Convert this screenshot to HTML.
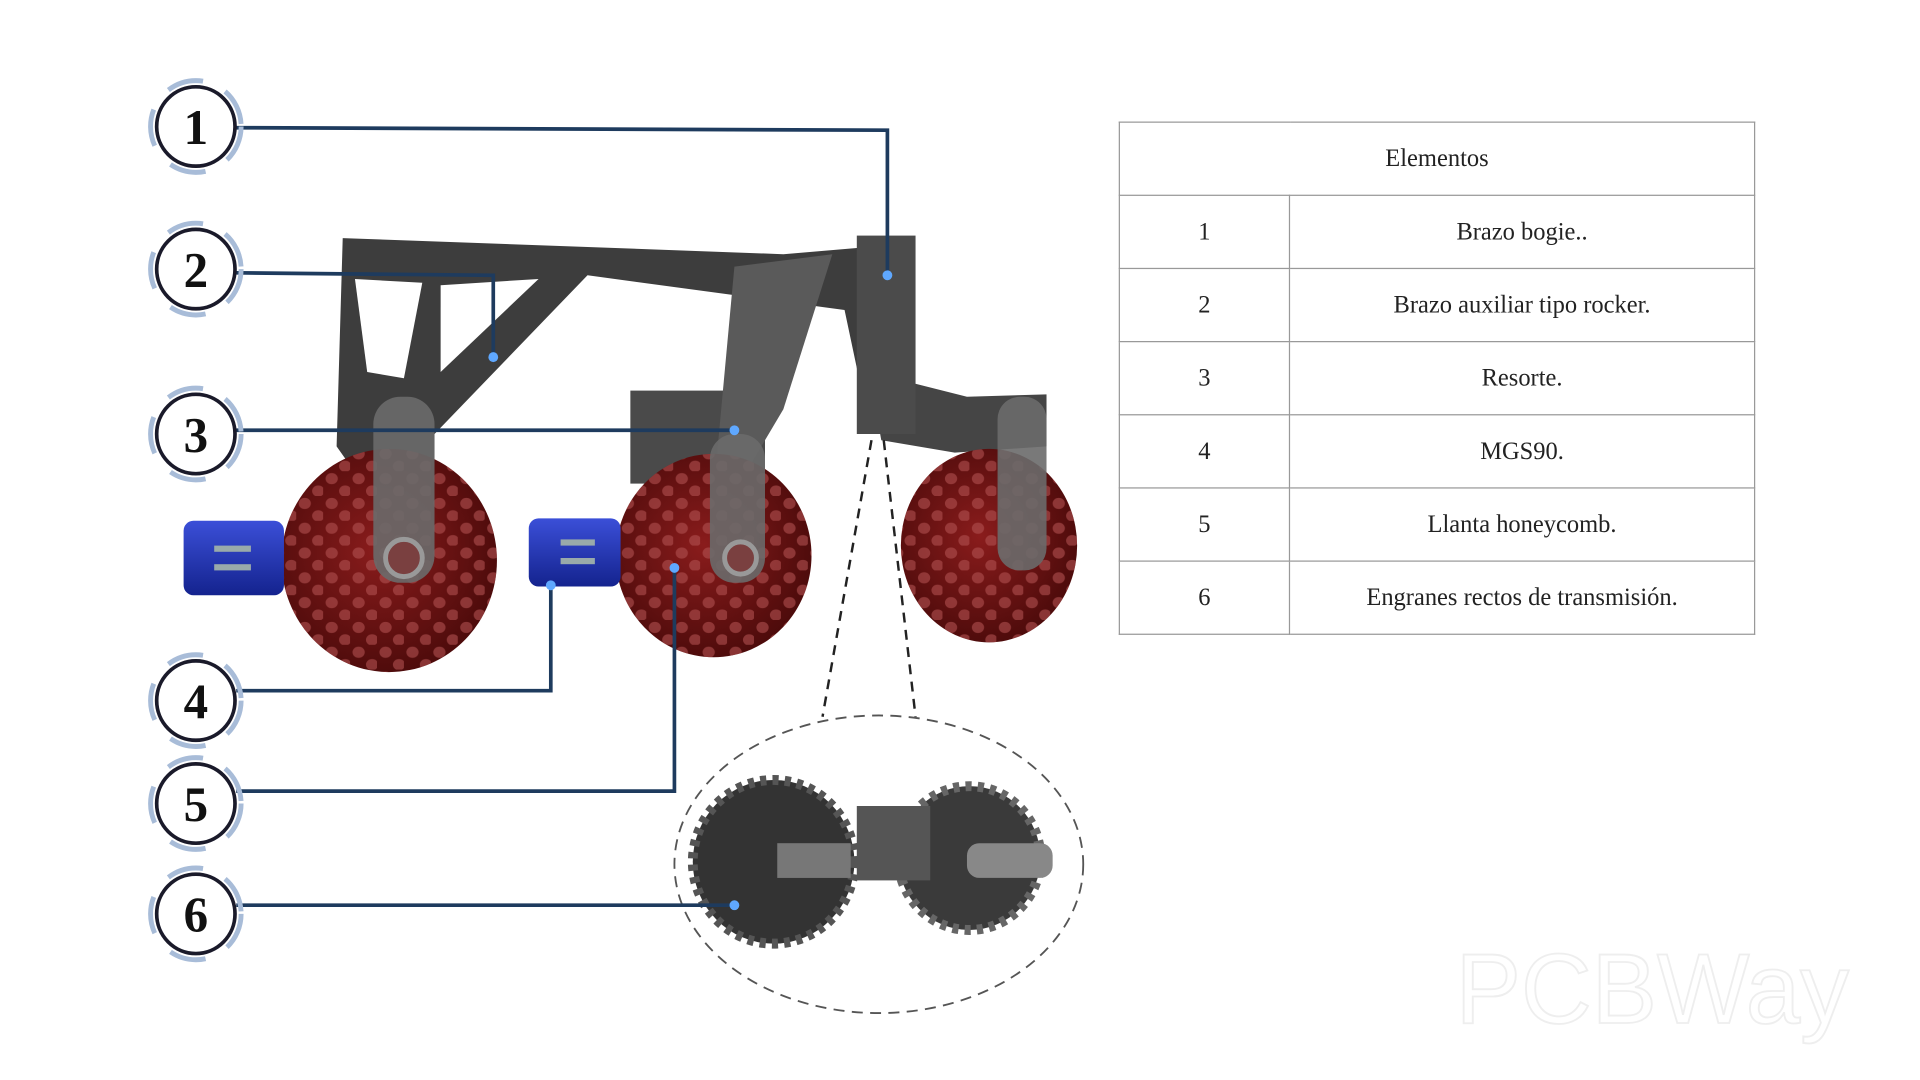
<!DOCTYPE html>
<html><head><meta charset="utf-8">
<style>
html,body{margin:0;padding:0;background:#fff;width:1920px;height:1080px;overflow:hidden}
#w{position:absolute;left:0;top:0;width:1545px;height:869px;transform:scale(1.224,1.240);transform-origin:0 0}
svg{position:absolute;left:0;top:0}
table{position:absolute;left:914px;top:98px;width:520px;border-collapse:collapse;font-family:"Liberation Serif",serif;font-size:20px;color:#222}
td{border:1.5px solid #999;height:58px;text-align:center;padding:0}
.n{width:138px}
</style></head><body><div id="w">
<svg width="1545" height="869" viewBox="0 0 1545 869">
<defs>
<radialGradient id="wh" cx="45%" cy="45%" r="60%"><stop offset="0" stop-color="#8a1c1c"/><stop offset="1" stop-color="#4a0a0a"/></radialGradient>
<linearGradient id="mt" x1="0" y1="0" x2="0" y2="1"><stop offset="0" stop-color="#3b4fd8"/><stop offset="1" stop-color="#14238e"/></linearGradient>
<pattern id="hc" width="22" height="20" patternUnits="userSpaceOnUse"><ellipse cx="7" cy="6" rx="5" ry="4.5" fill="#b05050" opacity=".6"/><ellipse cx="18" cy="16" rx="5" ry="4.5" fill="#b05050" opacity=".6"/></pattern>
</defs>
<path d="M280 192 L640 205 L700 200 L745 195 L748 340 L720 350 L705 320 L690 250 L480 222 L355 350 L355 395 L300 395 L275 360 Z" fill="#3d3d3d"/>
<path d="M290 225 L345 228 L330 305 L300 300 Z" fill="#fff"/>
<path d="M360 230 L440 225 L360 300 Z" fill="#fff"/>
<rect x="515" y="315" width="110" height="75" fill="#4a4a4a"/>
<path d="M600 215 L680 205 L640 330 L610 380 L585 375 Z" fill="#5a5a5a"/>
<path d="M710 300 L790 320 L855 318 L855 360 L780 365 L720 355 Z" fill="#454545"/>
<rect x="700" y="190" width="48" height="160" fill="#4b4b4b"/>
<ellipse cx="318" cy="452" rx="88" ry="90" fill="url(#wh)"/><ellipse cx="318" cy="452" rx="88" ry="90" fill="url(#hc)"/>
<ellipse cx="583" cy="448" rx="80" ry="82" fill="url(#wh)"/><ellipse cx="583" cy="448" rx="80" ry="82" fill="url(#hc)"/>
<ellipse cx="808" cy="440" rx="72" ry="78" fill="url(#wh)"/><ellipse cx="808" cy="440" rx="72" ry="78" fill="url(#hc)"/>
<rect x="305" y="320" width="50" height="150" rx="22" fill="#6a6a6a" opacity=".9"/>
<circle cx="330" cy="450" r="15" fill="#7a4040" stroke="#999" stroke-width="4"/>
<rect x="580" y="350" width="45" height="120" rx="20" fill="#6a6a6a" opacity=".9"/>
<circle cx="605" cy="450" r="13" fill="#7a4040" stroke="#999" stroke-width="4"/>
<rect x="815" y="320" width="40" height="140" rx="18" fill="#6a6a6a" opacity=".9"/>
<rect x="150" y="420" width="82" height="60" rx="8" fill="url(#mt)"/>
<rect x="175" y="440" width="30" height="5" fill="#9aa"/><rect x="175" y="455" width="30" height="5" fill="#9aa"/>
<rect x="432" y="418" width="75" height="55" rx="8" fill="url(#mt)"/>
<rect x="458" y="435" width="28" height="5" fill="#9aa"/><rect x="458" y="450" width="28" height="5" fill="#9aa"/>
<line x1="712" y1="355" x2="672" y2="578" stroke="#222" stroke-width="2" stroke-dasharray="8 6"/>
<line x1="722" y1="355" x2="748" y2="578" stroke="#222" stroke-width="2" stroke-dasharray="8 6"/>
<ellipse cx="718" cy="697" rx="167" ry="120" fill="none" stroke="#555" stroke-width="1.5" stroke-dasharray="9 6"/>
<circle cx="632" cy="695" r="66" fill="#333" stroke="#555" stroke-width="8" stroke-dasharray="5 5"/>
<circle cx="792" cy="692" r="58" fill="#3a3a3a" stroke="#666" stroke-width="8" stroke-dasharray="5 5"/>
<rect x="635" y="680" width="60" height="28" fill="#777"/><rect x="790" y="680" width="70" height="28" rx="10" fill="#888"/>
<rect x="700" y="650" width="60" height="60" fill="#555"/>
<g fill="none" stroke="#1e3b5e" stroke-width="3">
<polyline points="193,103 725,105 725,222"/>
<polyline points="193,220 403,222 403,288"/>
<polyline points="193,347 600,347"/>
<polyline points="193,557 450,557 450,472"/>
<polyline points="193,638 551,638 551,458"/>
<polyline points="193,730 600,730"/>
</g>
<g fill="#5fa8ff"><circle cx="725" cy="222" r="4"/><circle cx="403" cy="288" r="4"/><circle cx="600" cy="347" r="4"/><circle cx="450" cy="472" r="4"/><circle cx="551" cy="458" r="4"/><circle cx="600" cy="730" r="4"/></g>
<g font-family="Liberation Serif,serif" font-size="40" font-weight="bold" text-anchor="middle" fill="#111">
<g stroke="#1a1a2a" stroke-width="3" fill="#fff">
<circle cx="160" cy="102" r="32"/><circle cx="160" cy="217" r="32"/><circle cx="160" cy="350" r="32"/><circle cx="160" cy="565" r="32"/><circle cx="160" cy="648" r="32"/><circle cx="160" cy="737" r="32"/>
</g>
<g stroke="#a8bcd8" stroke-width="4" fill="none" stroke-dasharray="30 20">
<circle cx="160" cy="102" r="37"/><circle cx="160" cy="217" r="37"/><circle cx="160" cy="350" r="37"/><circle cx="160" cy="565" r="37"/><circle cx="160" cy="648" r="37"/><circle cx="160" cy="737" r="37"/>
</g>
<text x="160" y="116">1</text><text x="160" y="231">2</text><text x="160" y="364">3</text><text x="160" y="579">4</text><text x="160" y="662">5</text><text x="160" y="751">6</text>
</g>
<text x="1350" y="825" font-family="Liberation Sans,sans-serif" font-size="80" text-anchor="middle" fill="none" stroke="#eee" stroke-width="1.5">PCBWay</text>
</svg>
<table>
<tr><td colspan="2">Elementos</td></tr>
<tr><td class="n">1</td><td>Brazo bogie..</td></tr>
<tr><td class="n">2</td><td>Brazo auxiliar tipo rocker.</td></tr>
<tr><td class="n">3</td><td>Resorte.</td></tr>
<tr><td class="n">4</td><td>MGS90.</td></tr>
<tr><td class="n">5</td><td>Llanta honeycomb.</td></tr>
<tr><td class="n">6</td><td>Engranes rectos de transmisión.</td></tr>
</table>
</div></body></html>
